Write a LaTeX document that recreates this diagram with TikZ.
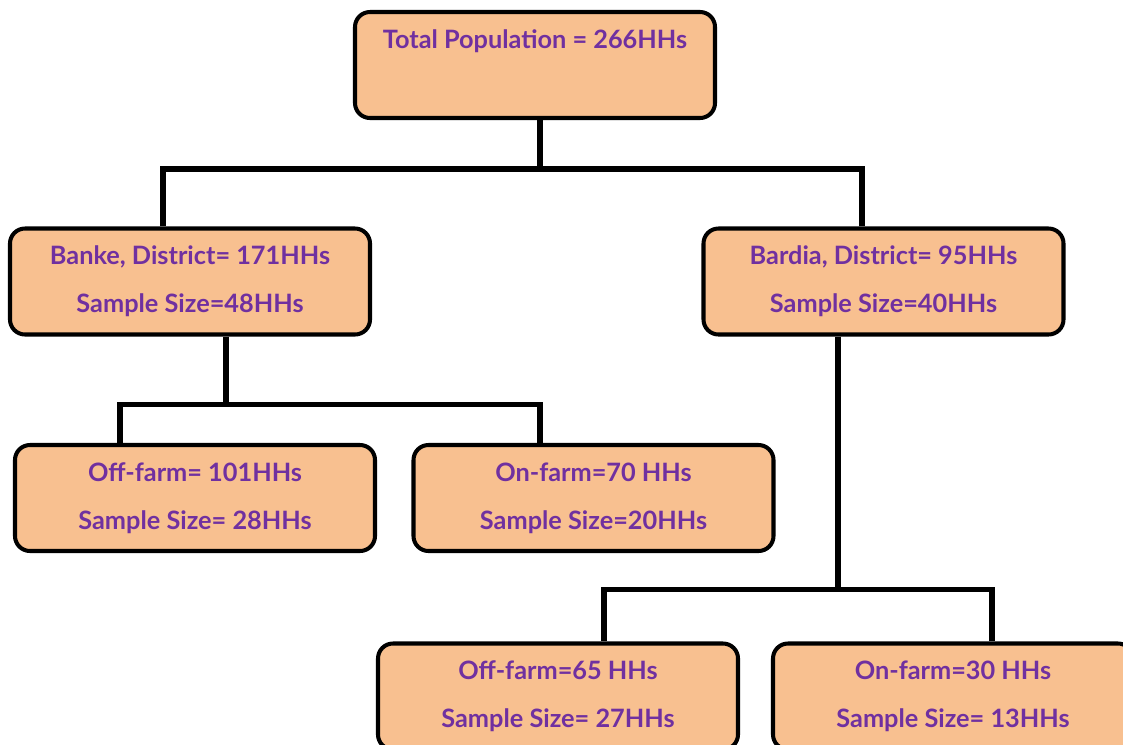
\documentclass[tikz,border=0pt]{standalone}
\usepackage{fontspec}
\setmainfont{Lato}
\definecolor{boxfill}{RGB}{248,192,144}
\definecolor{txtpurple}{RGB}{112,48,160}
\tikzset{
  box/.style={draw=black, line width=1.15pt, fill=boxfill, rounded corners=0.15cm,
    minimum width=3.6cm, minimum height=1.06cm, align=center, text=txtpurple,
    font=\fontsize{7.2}{13.66}\selectfont\bfseries, inner sep=0pt},
  conn/.style={draw=black, line width=1.45pt}
}
\begin{document}
\begin{tikzpicture}
    \useasboundingbox (0,0) rectangle (11.23,-7.44);
    \clip (0,0) rectangle (11.23,-7.44);
    % Gesamtpopulation
    \node[box] (top) at (5.35,-0.65) {Total Population = 266HHs\\ \phantom{Sample}};
    
    % Bezirke
    \node[box] (banke) at (1.90,-2.815) {Banke, District= 171HHs\\Sample Size=48HHs};
    \node[box] (bardia) at (8.835,-2.815) {Bardia, District= 95HHs\\Sample Size=40HHs};
    
    % Banke: off-farm / on-farm
    \node[box] (bankeoff) at (1.95,-4.98) {Off-farm= 101HHs\\Sample Size= 28HHs};
    \node[box] (bankeon) at (5.935,-4.98) {On-farm=70 HHs\\Sample Size=20HHs};
    
    % Bardia: off-farm / on-farm
    \node[box] (bardiaoff) at (5.58,-6.965) {Off-farm=65 HHs\\Sample Size= 27HHs};
    \node[box] (bardiaon) at (9.53,-6.965) {On-farm=30 HHs\\Sample Size= 13HHs};
    
    % Verbindungen
    \draw[conn] ([xshift=0.05cm]top.south) -- ++(0,-0.49) coordinate (jtop);
    \draw[conn] ([xshift=-0.27cm]banke.north) |- (jtop);
    \draw[conn] ([xshift=-0.215cm]bardia.north) |- (jtop);
    
    \draw[conn] ([xshift=0.36cm]banke.south) -- ++(0,-0.68) coordinate (jbanke);
    \draw[conn] ([xshift=-0.75cm]bankeoff.north) |- (jbanke);
    \draw[conn] ([xshift=-0.535cm]bankeon.north) |- (jbanke);
    
    \draw[conn] ([xshift=-0.455cm]bardia.south) -- ++(0,-2.53) coordinate (jbardia);
    \draw[conn] ([xshift=0.46cm]bardiaoff.north) |- (jbardia);
    \draw[conn] ([xshift=0.39cm]bardiaon.north) |- (jbardia);
\end{tikzpicture}
\end{document}
